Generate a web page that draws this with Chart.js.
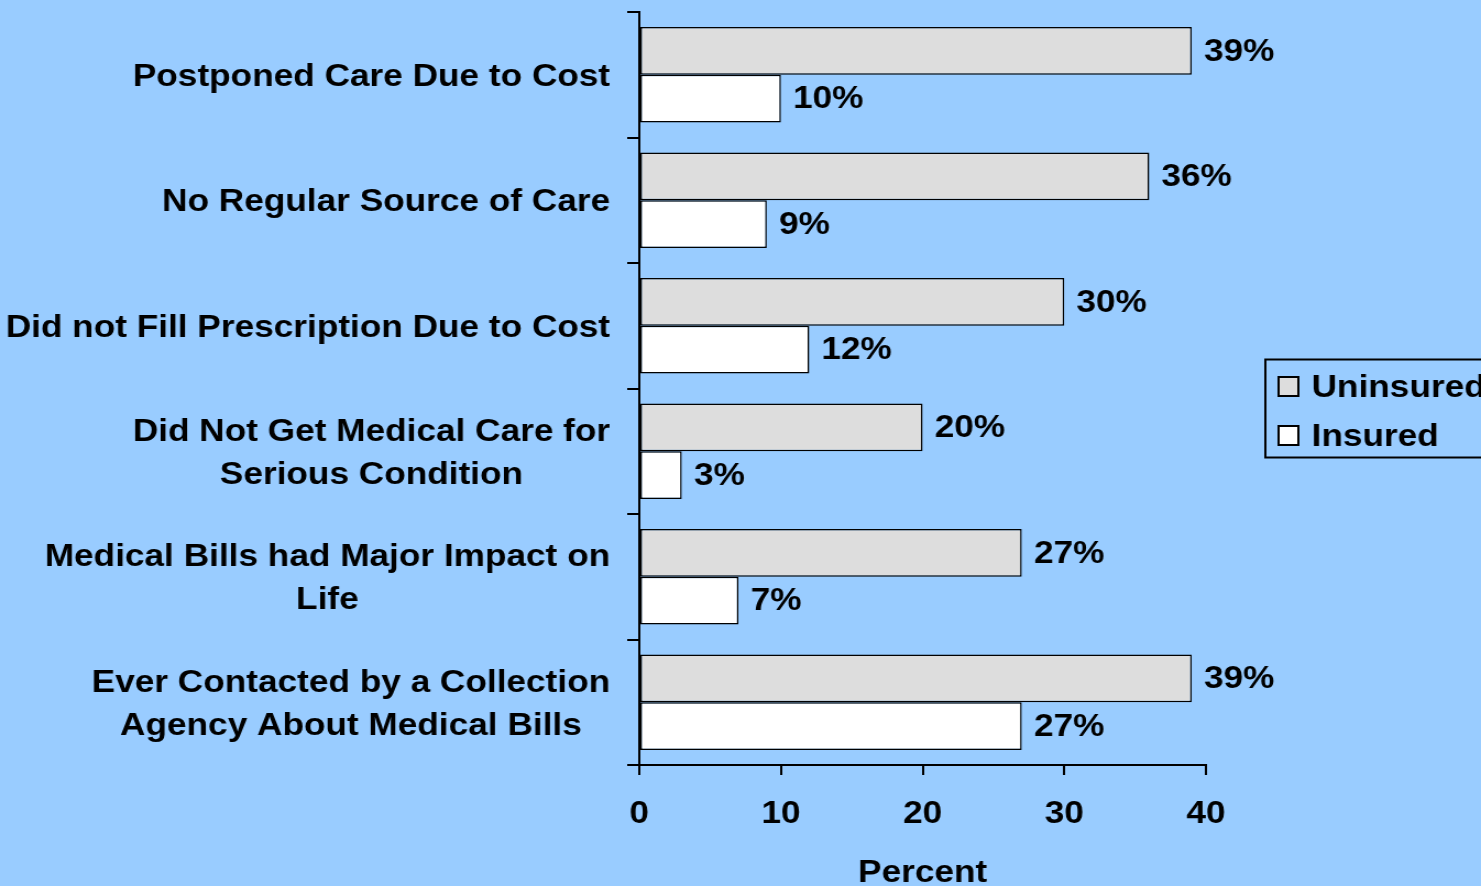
<!DOCTYPE html>
<html><head><meta charset="utf-8">
<script src="https://cdn.jsdelivr.net/npm/chart.js@4.4.1/dist/chart.umd.min.js"></script>
<style>
html,body{margin:0;padding:0;background:#99CCFF;overflow:hidden;width:1481px;height:886px;}
#wrap{position:absolute;left:0;top:0;width:1346px;height:886px;transform:scaleX(1.1003);transform-origin:0 0;}
canvas{display:block;}
</style></head><body>
<div id="wrap"><canvas id="c" width="1346" height="886"></canvas></div>
<script>
const categories = [
  ["Postponed Care Due to Cost"],
  ["No Regular Source of Care"],
  ["Did not Fill Prescription Due to Cost"],
  ["Did Not Get Medical Care for", "Serious Condition"],
  ["Medical Bills had Major Impact on", "Life"],
  ["Ever Contacted by a Collection", "Agency About Medical Bills"]
];
const seriesNames = ["Uninsured", "Insured"];
const uninsured = [39, 36, 30, 20, 27, 39];
const insured = [10, 9, 12, 3, 7, 27];
const xTicks = [0, 10, 20, 30, 40];
const axisTitle = "Percent";

const FONT = "'Liberation Sans', Arial, Helvetica, sans-serif";
const fontStr = "bold 32px " + FONT;

const valueLabels = {
  id: 'valueLabels',
  afterDatasetsDraw(chart) {
    const ctx = chart.ctx;
    ctx.save();
    ctx.font = fontStr;
    ctx.fillStyle = '#000';
    ctx.textAlign = 'left';
    ctx.textBaseline = 'middle';
    chart.data.datasets.forEach((ds, di) => {
      const meta = chart.getDatasetMeta(di);
      meta.data.forEach((el, i) => {
        ctx.fillText(ds.data[i] + '%', el.x + 11, el.y + 1);
      });
    });
    ctx.restore();
  }
};

const categoryLabels = {
  id: 'categoryLabels',
  afterDraw(chart) {
    const ctx = chart.ctx;
    const ys = chart.scales.y;
    const rightEdge = 554.5;
    const lh = 43;
    ctx.save();
    ctx.font = fontStr;
    ctx.fillStyle = '#000';
    ctx.textAlign = 'center';
    ctx.textBaseline = 'middle';
    categories.forEach((lines, i) => {
      const cy = ys.getPixelForValue(i) + 2;
      const w = Math.max(...lines.map(l => ctx.measureText(l).width));
      const cx = rightEdge - w / 2;
      const y0 = cy - (lines.length - 1) * lh / 2;
      lines.forEach((l, k) => ctx.fillText(l, cx, y0 + k * lh));
    });
    ctx.restore();
  }
};

const boxLegend = {
  id: 'boxLegend',
  afterDraw(chart) {
    const ctx = chart.ctx;
    ctx.save();
    ctx.lineWidth = 2;
    ctx.strokeStyle = '#000';
    ctx.strokeRect(1150, 359.5, 300, 98);
    ctx.font = fontStr;
    ctx.textAlign = 'left';
    ctx.textBaseline = 'middle';
    const rows = [387, 436];
    chart.data.datasets.forEach((ds, i) => {
      const y = rows[i];
      ctx.fillStyle = ds.backgroundColor;
      ctx.fillRect(1162, y - 10, 18, 19);
      ctx.lineWidth = 2;
      ctx.strokeRect(1162, y - 10, 18, 19);
      ctx.fillStyle = '#000';
      ctx.fillText(ds.label, 1192, y + 1);
    });
    ctx.restore();
  }
};

const ctx = document.getElementById('c').getContext('2d');
new Chart(ctx, {
  type: 'bar',
  data: {
    labels: categories.map(l => l.join(' ')),
    datasets: [
      { label: seriesNames[0], data: uninsured, backgroundColor: '#DDDDDD', borderColor: '#000', borderWidth: 1.5, borderSkipped: false, categoryPercentage: 0.76, barPercentage: 1 },
      { label: seriesNames[1], data: insured, backgroundColor: '#FFFFFF', borderColor: '#000', borderWidth: 1.5, borderSkipped: false, categoryPercentage: 0.76, barPercentage: 1 }
    ]
  },
  options: {
    indexAxis: 'y',
    responsive: false,
    animation: false,
    devicePixelRatio: 1,
    layout: { padding: { left: 570, right: 250, top: 12, bottom: 0 } },
    plugins: { legend: { display: false }, tooltip: { enabled: false } },
    scales: {
      x: {
        type: 'linear', min: xTicks[0], max: xTicks[xTicks.length - 1],
        afterBuildTicks(scale) { scale.ticks = xTicks.map(v => ({ value: v })); },
        ticks: { color: '#000', font: { family: FONT, size: 32, weight: 'bold' }, padding: 20 },
        grid: { drawOnChartArea: false, drawTicks: true, tickLength: 10, color: '#000', lineWidth: 2 },
        border: { color: '#000', width: 2 },
        title: { display: true, text: axisTitle, color: '#000', font: { family: FONT, size: 32, weight: 'bold', lineHeight: 0.8 }, padding: { top: 7, bottom: 0 } }
      },
      y: {
        type: 'category', offset: true,
        grid: { offset: true, drawOnChartArea: false, drawTicks: true, tickLength: 11, color: '#000', lineWidth: 2 },
        border: { color: '#000', width: 2 },
        ticks: { display: false }
      }
    }
  },
  plugins: [valueLabels, categoryLabels, boxLegend]
});
</script>
</body></html>
